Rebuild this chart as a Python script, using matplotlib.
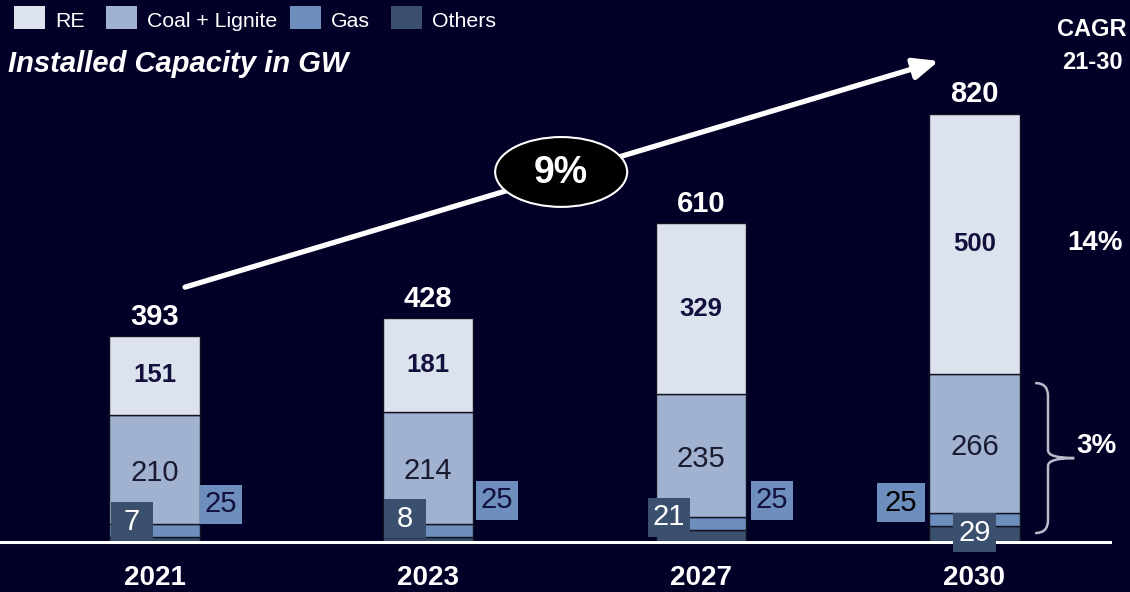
import matplotlib
matplotlib.use("Agg")
import matplotlib.pyplot as plt
from matplotlib.patches import Ellipse, Rectangle, PathPatch
from matplotlib.path import Path

plt.rcParams['font.family'] = ['Liberation Sans', 'DejaVu Sans']

# data
years = ['2021', '2023', '2027', '2030']
re_vals = [151, 181, 329, 500]
coal_vals = [210, 214, 235, 266]
gas_vals = [25, 25, 25, 25]
other_vals = [7, 8, 21, 29]
series_names = ['RE', 'Coal + Lignite', 'Gas', 'Others']
cagr_total = '9%'
cagr_re = '14%'
cagr_conv = '3%'

bg = '#020026'
c_re = '#dde3ee'
c_coal = '#a0b2cf'
c_gas = '#6e8fbd'
c_oth = '#3b506e'
navy = '#12103c'

fig = plt.figure(figsize=(11.3, 5.92), dpi=100, facecolor=bg)
ax = fig.add_axes([0, 0, 1, 1])
ax.set_facecolor(bg)
ax.axis('off')
ax.set_xlim(-0.565, 3.569)
ax.set_ylim(-98, 1038)

x = list(range(len(years)))
w = 0.33
totals = [a + b + c + d for a, b, c, d in zip(re_vals, coal_vals, gas_vals, other_vals)]
b_gas = other_vals
b_coal = [o + g for o, g in zip(other_vals, gas_vals)]
b_re = [o + g + c for o, g, c in zip(other_vals, gas_vals, coal_vals)]

kw = dict(width=w, edgecolor='#111122', linewidth=1, zorder=2)
ax.bar(x, other_vals, color=c_oth, **kw)
ax.bar(x, gas_vals, bottom=b_gas, color=c_gas, **kw)
ax.bar(x, coal_vals, bottom=b_coal, color=c_coal, **kw)
ax.bar(x, re_vals, bottom=b_re, color=c_re, **kw)

# baseline
ax.axhline(-2, xmin=0, xmax=0.982, color='white', lw=2.2, zorder=3)

for i in x:
    ax.annotate(str(totals[i]), (i, totals[i]), xytext=(0, 8), textcoords='offset points',
                ha='center', va='baseline', fontsize=21, fontweight='bold', color='white')
    ax.text(i, b_re[i] + re_vals[i] / 2, str(re_vals[i]), ha='center', va='center',
            fontsize=18.5, fontweight='bold', color=navy, zorder=4)
    ax.text(i, b_coal[i] + coal_vals[i] / 2 - 6, str(coal_vals[i]), ha='center', va='center',
            fontsize=21, color='#1a1a30', zorder=4)
    ax.text(i, -71, years[i], ha='center', va='center', fontsize=20,
            fontweight='bold', color='white')

# value boxes for the thin segments
box_w, box_h = 0.154, 75
gas_dx = [0.243, 0.253, 0.259, -0.269]
gas_y = [70, 78, 78, 73]
oth_dx = [-0.082, -0.082, -0.117, 0.0]
oth_y = [37, 43, 45, 16]
for i in x:
    gx, ox = i + gas_dx[i], i + oth_dx[i]
    gw = box_w if i < 3 else box_w * 1.15
    ax.add_patch(Rectangle((gx - gw / 2, gas_y[i] - box_h / 2), gw, box_h,
                           fc=c_gas, ec='none', zorder=5))
    ax.text(gx, gas_y[i], str(gas_vals[i]), ha='center', va='center', fontsize=21,
            color=navy if i < 3 else 'black', zorder=6)
    ax.add_patch(Rectangle((ox - box_w / 2, oth_y[i] - box_h / 2), box_w, box_h,
                           fc=c_oth, ec='none', zorder=5))
    ax.text(ox, oth_y[i], str(other_vals[i]), ha='center', va='center', fontsize=21,
            color='white', zorder=6)

# CAGR arrow
ax.annotate('', xy=(2.87, 921), xytext=(0.112, 487),
            arrowprops=dict(arrowstyle='-|>,head_length=0.75,head_width=0.32',
                            mutation_scale=20, lw=3.8, color='white',
                            shrinkA=0, shrinkB=0), zorder=3)
ax.add_patch(Ellipse((1.488, 708), 0.483, 134, fc='black', ec='white', lw=1.5, zorder=6))
ax.text(1.488, 706, cagr_total, ha='center', va='center', fontsize=27,
        fontweight='bold', color='white', zorder=7)

# right side CAGR
ax.text(3.43, 981, 'CAGR', ha='center', va='center', fontsize=17, fontweight='bold', color='white')
ax.text(3.43, 919, '21-30', ha='center', va='center', fontsize=17, fontweight='bold', color='white')
ax.text(3.441, 572, cagr_re, ha='center', va='center', fontsize=20, fontweight='bold', color='white')
ax.text(3.445, 182, cagr_conv, ha='center', va='center', fontsize=20, fontweight='bold', color='white')

# brace
x0, x1, x2 = 3.222, 3.269, 3.365
yt, ym, yb = 303, 159, 15
verts = [(x0, yt), (x1, yt), (x1, yt - 25), (x1, ym + 15),
         (x1, ym), (x2, ym), (x2, ym),
         (x1, ym), (x1, ym - 15), (x1, yb + 25),
         (x1, yb), (x0, yb)]
codes = [Path.MOVETO, Path.CURVE3, Path.CURVE3, Path.LINETO,
         Path.CURVE3, Path.CURVE3, Path.MOVETO,
         Path.CURVE3, Path.CURVE3, Path.LINETO,
         Path.CURVE3, Path.CURVE3]
ax.add_patch(PathPatch(Path(verts, codes), fc='none', ec='#b8bccb', lw=1.8))

# legend (drawn by hand, spacing is uneven in the original)
W, H = 1130, 592
sq_x = [14, 106, 290, 391]
txt_x = [55, 147, 331, 432]
for sx, tx, name, c in zip(sq_x, txt_x, series_names, (c_re, c_coal, c_gas, c_oth)):
    fig.patches.append(Rectangle((sx / W, 1 - 29 / H), 31 / W, 23 / H, fc=c, ec='none',
                                 transform=fig.transFigure, figure=fig))
    fig.text(tx / W, 1 - 27 / H, name, ha='left', va='baseline', fontsize=15.3, color='white')

fig.text(8 / W, 1 - 64 / H, 'Installed Capacity in GW', ha='left', va='center',
         fontsize=21, fontweight='bold', fontstyle='italic', color='white')

fig.savefig('out.png', dpi=100, facecolor=bg)
